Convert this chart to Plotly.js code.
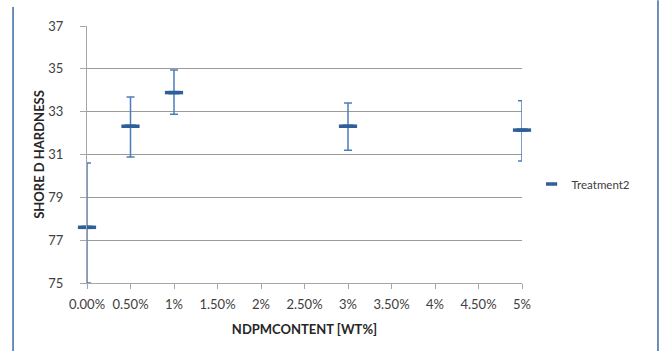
<!DOCTYPE html>
<html>
<head>
<meta charset="utf-8">
<script src="https://cdn.plot.ly/plotly-3.0.1.min.js"></script>
<style>
html,body{margin:0;padding:0;background:#fff;}
#chart{width:669px;height:351px;}
</style>
</head>
<body>
<div id="chart"></div>
<script>
// Categories on the x axis (all tick labels)
const xCategories = ["0.00%","0.50%","1%","1.50%","2%","2.50%","3%","3.50%","4%","4.50%","5%"];
// Measured points
const xPoints = ["0.00%","0.50%","1%","3%","5%"];
const hardness = [27.6, 32.32, 33.89, 32.32, 32.14];
const errPlus = [3.0, 1.37, 1.06, 1.08, 1.37];
const errMinus = [2.6, 1.44, 1.01, 1.12, 1.44];
// Y axis ticks as printed
const yTickVals = [25, 27, 29, 31, 33, 35, 37];
const yTickText = ["75", "77", "79", "31", "33", "35", "37"];
const seriesName = "Treatment2";

const font = "Lato, 'Open Sans', sans-serif";

const traceErr = {
  type: "scatter", mode: "markers",
  x: xPoints, y: hardness, name: seriesName, showlegend: false,
  cliponaxis: false,
  marker: {symbol: "line-ew", size: 13, color: "#2e5f99", line: {width: 3.5, color: "#2e5f99"}},
  error_y: {type: "data", symmetric: false, array: errPlus, arrayminus: errMinus,
            color: "#4a7ebb", thickness: 1.5, width: 4}
};
const traceLegend = {
  type: "scatter", mode: "markers",
  x: xPoints, y: hardness, name: seriesName, showlegend: true,
  cliponaxis: false,
  marker: {symbol: "line-ew", size: 8, color: "#2e5f99", line: {width: 3.5, color: "#2e5f99"}}
};

const layout = {
  width: 669, height: 351,
  margin: {l: 87, r: 147, t: 26, b: 68},
  paper_bgcolor: "#ffffff", plot_bgcolor: "#ffffff",
  font: {family: font, size: 11, color: "#404040"},
  showlegend: true,
  legend: {x: 1.022, y: 0.385, xanchor: "left", yanchor: "middle",
           font: {family: font, size: 11.5, color: "#404040"}, itemwidth: 30, itemsizing: "trace",
           bgcolor: "rgba(0,0,0,0)"},
  xaxis: {
    type: "category", categoryorder: "array", categoryarray: xCategories,
    range: [0, 10], showgrid: false, zeroline: false,
    showline: true, linecolor: "#a6a6a6", linewidth: 1,
    ticks: "outside", ticklen: 5, tickcolor: "#a6a6a6",
    tickfont: {family: font, size: 13, color: "#404040"}, ticklabelstandoff: 4,
    title: {text: "NDPMCONTENT [WT%]", font: {family: font, size: 13, color: "#262626", weight: "bold"}, standoff: 14}
  },
  yaxis: {
    range: [25, 37], tickvals: yTickVals, ticktext: yTickText,
    showgrid: true, gridcolor: "#9a9a9a", gridwidth: 1, zeroline: false,
    showline: true, linecolor: "#a6a6a6", linewidth: 1,
    ticks: "outside", ticklen: 6, tickcolor: "#a6a6a6",
    tickfont: {family: font, size: 13, color: "#404040"}, ticklabelstandoff: 14,
    title: {text: "SHORE D HARDNESS", font: {family: font, size: 13, color: "#262626", weight: "bold"}, standoff: 0}
  },
  shapes: [
    {type: "line", xref: "paper", yref: "paper", x0: -0.170, x1: -0.170, y0: 1.074, y1: -0.27,
     line: {color: "#3a6aa8", width: 1.5}},
    {type: "line", xref: "paper", yref: "paper", x0: 1.3126, x1: 1.3126, y0: 1.1, y1: -0.27,
     line: {color: "#3a6aa8", width: 1.5}}
  ]
};

Plotly.newPlot("chart", [traceErr, traceLegend], layout, {displayModeBar: false, staticPlot: true});
</script>
</body>
</html>
